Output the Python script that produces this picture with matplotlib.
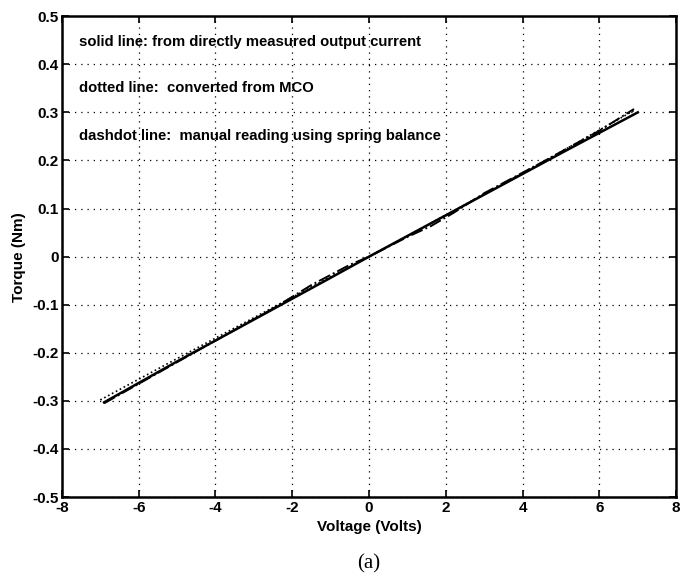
import matplotlib
matplotlib.use("Agg")
import matplotlib.pyplot as plt

# Data
volt_solid = [-6.9, -5.0, -3.0, -1.0, 0.0, 1.0, 3.0, 5.0, 7.0]
torque_solid = [-0.303, -0.218, -0.131, -0.044, 0.0, 0.043, 0.129, 0.215, 0.300]

volt_dotted = [-7.0, -5.0, -3.0, -1.0, 0.0, 1.0, 3.0, 5.0, 6.9]
torque_dotted = [-0.298, -0.212, -0.127, -0.042, 0.0, 0.043, 0.130, 0.218, 0.304]

volt_dashdot = [-6.9, -4.5, -2.5, -1.5, -0.5, 0.0, 1.0, 1.6, 2.2, 3.0, 4.5, 6.0, 6.9]
torque_dashdot = [-0.305, -0.197, -0.108, -0.059, -0.017, 0.0, 0.041, 0.063, 0.091, 0.132, 0.196, 0.262, 0.307]

annotations = [
    "solid line: from directly measured output current",
    "dotted line:  converted from MCO",
    "dashdot line:  manual reading using spring balance",
]
annot_y = [0.447, 0.350, 0.250]

xticks = [-8, -6, -4, -2, 0, 2, 4, 6, 8]
yticks = [-0.5, -0.4, -0.3, -0.2, -0.1, 0, 0.1, 0.2, 0.3, 0.4, 0.5]
ytick_labels = ["-0.5", "-0.4", "-0.3", "-0.2", "-0.1", "0", "0.1", "0.2", "0.3", "0.4", "0.5"]

plt.rcParams['font.family'] = ['Liberation Sans', 'DejaVu Sans']

fig = plt.figure(figsize=(6.95, 5.78), dpi=100)
ax = fig.add_axes([0.089, 0.140, 0.884, 0.832])

ax.plot(volt_solid, torque_solid, color='black', lw=1.8, ls='-')
ax.plot(volt_dotted, torque_dotted, color='black', lw=1.2, ls=':')
ax.plot(volt_dashdot, torque_dashdot, color='black', lw=1.4, ls='-.')

ax.set_xlim(-8, 8)
ax.set_ylim(-0.5, 0.5)
ax.set_xticks(xticks)
ax.set_xticklabels([str(t) for t in xticks], fontweight='bold', fontsize=11)
ax.set_yticks(yticks)
ax.set_yticklabels(ytick_labels, fontweight='bold', fontsize=11)
ax.tick_params(axis='x', pad=2.5)
ax.tick_params(axis='y', pad=2.5)
ax.tick_params(direction='in', top=True, right=True, length=5, width=1.2)
ax.grid(True, color='black', ls=(0, (1, 4)), lw=0.9)
for s in ax.spines.values():
    s.set_linewidth(1.8)

for txt, yy in zip(annotations, annot_y):
    ax.text(-7.55, yy, txt, fontsize=10.7, fontweight='bold', va='center', ha='left')

ax.set_xlabel("Voltage (Volts)", fontsize=11, fontweight='bold', labelpad=4)
ax.set_ylabel("Torque (Nm)", fontsize=11, fontweight='bold', labelpad=4)

fig.text(0.530, 0.024, "(a)", fontsize=15, family='Liberation Serif', ha='center', va='center')

fig.savefig("out.png", dpi=100, facecolor='white')
